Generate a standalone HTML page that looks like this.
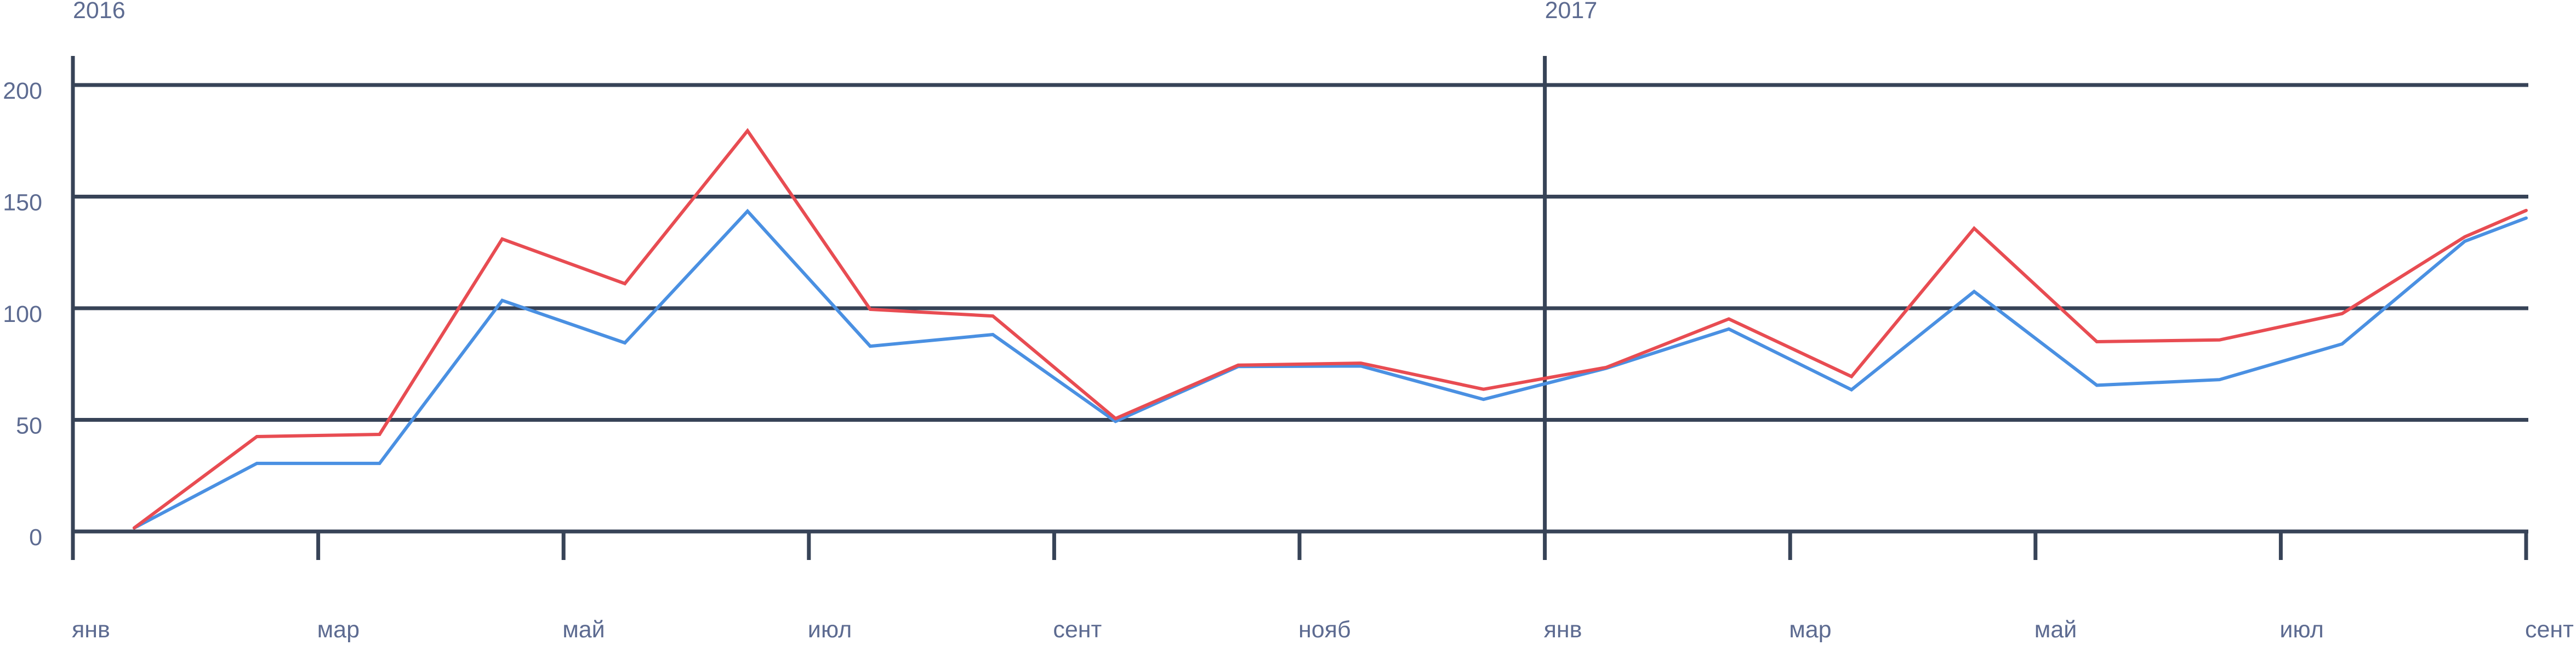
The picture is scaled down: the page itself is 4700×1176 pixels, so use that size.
<!DOCTYPE html>
<html><head><meta charset="utf-8"><style>
html,body{margin:0;padding:0;background:#fff;}
svg{display:block;}
text{font-family:"Liberation Sans",sans-serif;fill:#5d6b91;font-size:43px;}
</style></head><body>
<svg id="chart" width="4700" height="1176" viewBox="0 0 4700 1176" xmlns="http://www.w3.org/2000/svg">
<g id="grid"></g>
<g id="axes"></g>
<g id="series"></g>
<g id="labels"></g>
</svg>
<script>
const monthPos = [0.5,1.5,2.5,3.5,4.5,5.5,6.5,7.5,8.5,9.5,10.5,11.5,12.5,13.5,14.5,15.5,16.5,17.5,18.5,19.5,20];
const redValues = [1.6,42.5,43.5,131,111,179.5,99.5,96.5,50.6,74.5,75.4,63.7,73.5,95.2,69.4,135.8,85,85.8,97.6,132,143.8];
const blueValues = [1.6,30.5,30.5,103.5,84.5,143.5,83,88.2,49.3,73.9,74.1,59.2,73.1,90.7,63.5,107.5,65.5,68,84,130,140.4];
const yTicks = [0,50,100,150,200];
const monthTickLabels = ["янв","мар","май","июл","сент","нояб","янв","мар","май","июл","сент"];
const yearLabels = ["2016","2017"];
const yearMonths = [0,12];

const X0=133, MW=223.8, Y0=969, YS=(969-155)/200;
const xs = m => X0 + m*MW;
const ys = v => Y0 - v*YS;
const NS="http://www.w3.org/2000/svg";
function mk(tag, attrs, parent){const e=document.createElementNS(NS,tag);for(const k in attrs)e.setAttribute(k,attrs[k]);parent.appendChild(e);return e;}
const grid=document.getElementById('grid'), axes=document.getElementById('axes'), series=document.getElementById('series'), labels=document.getElementById('labels');
const C="#374357";
yTicks.forEach(v=>{
  const l=mk('line',{x1:X0,x2:xs(20)+4,y1:ys(v),y2:ys(v),stroke:C,'stroke-width':7},grid);
  
  
  const t=mk('text',{x:77,y:ys(v)+25,'text-anchor':'end'},labels);
  t.textContent=v;
  
  
});
let a=mk('line',{x1:X0,x2:X0,y1:102,y2:1021,stroke:C,'stroke-width':7},axes);


monthTickLabels.forEach((lab,i)=>{
  const m=i*2, x=xs(m);
  const tk=mk('line',{x1:x,x2:x,y1:(m===12?102:969),y2:1021,stroke:C,'stroke-width':7},axes);
  
  
  const t=mk('text',{x:x-2,y:1162},labels);
  t.textContent=lab;
  
  
});
yearLabels.forEach((lab,i)=>{
  const t=mk('text',{x:xs(yearMonths[i]),y:33},labels);
  t.textContent=lab;
  
  
});
function line(vals,color,name){
  const d=vals.map((v,i)=>(i?'L':'M')+xs(monthPos[i]).toFixed(1)+' '+ys(v).toFixed(1)).join(' ');
  const p=mk('path',{d:d,fill:'none',stroke:color,'stroke-width':6,'stroke-linejoin':'miter','stroke-linecap':'round'},series);
  
  
}
line(blueValues,'#4a90e2','blue-series-line');
line(redValues,'#e84c52','red-series-line');
</script>
</body></html>
